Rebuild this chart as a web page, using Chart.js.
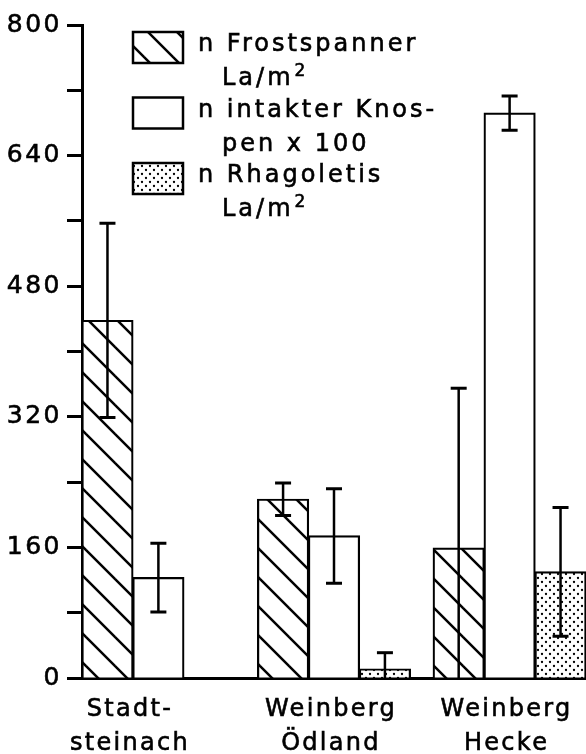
<!DOCTYPE html>
<html>
<head>
<meta charset="utf-8">
<script src="https://cdn.jsdelivr.net/npm/chart.js@4"></script>
<style>
  html, body { margin: 0; padding: 0; background: #fff; overflow: hidden; }
  #wrap { width: 586px; height: 754px; position: relative; }
</style>
</head>
<body>
<div id="wrap"><canvas id="c"></canvas></div>
<script>
// Sites (two-line labels under each bar group)
const categories = [['Stadt-', 'steinach'], ['Weinberg', 'Ödland'], ['Weinberg', 'Hecke']];

// Legend texts, one entry per series
const seriesNames = [['n Frostspanner', 'La/m²'], ['n intakter Knos-', 'pen x 100'], ['n Rhagoletis', 'La/m²']];

// Means and error half-widths per site
const frostspanner = [438, 219, 159];
const frostspannerErr = [119, 20, 196];
const knospen = [123, 174, 692];
const knospenErr = [42, 58, 21];
const rhagoletis = [null, 11, 130];
const rhagoletisErr = [null, 20, 79];

// Value axis: ticks every 80, labelled every 160
const yMax = 800;
const yTickStep = 80;
const yLabelStep = 160;

const FONT = '"DejaVu Sans", "Liberation Sans", sans-serif';

function hatchPattern() {
  const s = 29;
  const c = document.createElement('canvas');
  c.width = s; c.height = s;
  const g = c.getContext('2d');
  g.fillStyle = '#fff';
  g.fillRect(0, 0, s, s);
  g.strokeStyle = '#000';
  g.lineWidth = 2.5;
  for (let k = -1; k <= 1; k++) {
    g.beginPath();
    g.moveTo(-2, k * s - 2);
    g.lineTo(s + 2, s + k * s + 2);
    g.stroke();
  }
  return g.createPattern(c, 'repeat');
}

function dotPattern() {
  const s = 8;
  const c = document.createElement('canvas');
  c.width = s; c.height = s;
  const g = c.getContext('2d');
  g.fillStyle = '#fff';
  g.fillRect(0, 0, s, s);
  g.fillStyle = '#000';
  [[2, 2], [6, 6]].forEach(([x, y]) => {
    g.beginPath();
    g.arc(x, y, 1.15, 0, Math.PI * 2);
    g.fill();
  });
  return g.createPattern(c, 'repeat');
}

const fills = [hatchPattern(), '#fff', dotPattern()];
const values = [frostspanner, knospen, rhagoletis];
const errors = [frostspannerErr, knospenErr, rhagoletisErr];

// Share of a category slot taken by a bar group
const groupShare = 0.87;

const datasets = values.map((vals, d) => ({
  label: seriesNames[d].join(' '),
  data: vals.map((v, i) => ({ x: i, y: v })),
  errors: errors[d],
  backgroundColor: fills[d],
  borderColor: '#000',
  borderWidth: 2.2,
  borderSkipped: 'start',
  inflateAmount: 0.6,
  categoryPercentage: groupShare,
  barPercentage: 1.0
}));

// Text with a slightly heavier stroke and a drawn superscript "2"
function heavyText(ctx, text, x, y) {
  const parts = text.split('²');
  let cx = x;
  parts.forEach((p, k) => {
    if (p) {
      ctx.strokeText(p, cx, y);
      ctx.fillText(p, cx, y);
      cx += ctx.measureText(p).width;
    }
    if (k < parts.length - 1) {
      const f = ctx.font;
      ctx.font = f.replace(/\d+px/, '17px');
      ctx.strokeText('2', cx + 1, y - 9);
      ctx.fillText('2', cx + 1, y - 9);
      cx += ctx.measureText('2').width + 1;
      ctx.font = f;
    }
  });
}

// Mean ± error whiskers
const errorBars = {
  id: 'errorBars',
  afterDatasetsDraw(chart) {
    const ctx = chart.ctx;
    const y = chart.scales.y;
    ctx.save();
    ctx.strokeStyle = '#000';
    ctx.lineCap = 'butt';
    chart.data.datasets.forEach((ds, d) => {
      const meta = chart.getDatasetMeta(d);
      ds.data.forEach((pt, i) => {
        const e = ds.errors[i];
        if (pt.y == null || e == null) return;
        const x = meta.data[i].x;
        const yTop = y.getPixelForValue(pt.y + e);
        const yBot = y.getPixelForValue(Math.max(0, pt.y - e));
        const cap = 8;
        ctx.lineWidth = 2.5;
        ctx.beginPath();
        ctx.moveTo(x, yTop);
        ctx.lineTo(x, yBot);
        ctx.stroke();
        ctx.lineWidth = 3;
        ctx.beginPath();
        ctx.moveTo(x - cap, yTop);
        ctx.lineTo(x + cap, yTop);
        if (pt.y - e > 0) {
          ctx.moveTo(x - cap, yBot);
          ctx.lineTo(x + cap, yBot);
        }
        ctx.stroke();
      });
    });
    ctx.restore();
  }
};

// Site names, centred under the bars each site actually has
const siteLabels = {
  id: 'siteLabels',
  afterDraw(chart) {
    const ctx = chart.ctx;
    const area = chart.chartArea;
    ctx.save();
    ctx.font = '24px ' + FONT;
    ctx.letterSpacing = '2.3px';
    ctx.fillStyle = '#000';
    ctx.strokeStyle = '#000';
    ctx.lineWidth = 0.6;
    ctx.textAlign = 'center';
    ctx.textBaseline = 'alphabetic';
    categories.forEach((lines, i) => {
      let lo = Infinity, hi = -Infinity;
      chart.data.datasets.forEach((ds, d) => {
        if (ds.data[i].y == null) return;
        const el = chart.getDatasetMeta(d).data[i];
        lo = Math.min(lo, el.x - el.width / 2);
        hi = Math.max(hi, el.x + el.width / 2);
      });
      const cx = (lo + hi) / 2 - 3;
      lines.forEach((t, k) => {
        ctx.strokeText(t, cx, area.bottom + 38 + k * 34);
        ctx.fillText(t, cx, area.bottom + 38 + k * 34);
      });
    });
    ctx.restore();
  }
};

// Legend with pattern swatches and two-line entries
const patternLegend = {
  id: 'patternLegend',
  afterDraw(chart) {
    const ctx = chart.ctx;
    const area = chart.chartArea;
    const bx = area.left + 51, by0 = area.top + 7;
    const bw = 50, bh = 31, pitch = 65.5;
    ctx.save();
    ctx.font = '24px ' + FONT;
    ctx.letterSpacing = '3px';
    ctx.textAlign = 'left';
    ctx.textBaseline = 'alphabetic';
    seriesNames.forEach((lines, d) => {
      const by = by0 + d * pitch;
      ctx.fillStyle = fills[d];
      ctx.fillRect(bx, by, bw, bh);
      ctx.strokeStyle = '#000';
      ctx.lineWidth = 2.5;
      ctx.strokeRect(bx, by, bw, bh);
      ctx.fillStyle = '#000';
      ctx.lineWidth = 0.6;
      heavyText(ctx, lines[0], bx + bw + 15, by + 19);
      heavyText(ctx, lines[1], bx + bw + 39, by + 53);
    });
    ctx.restore();
  }
};

const spacing = {
  id: 'spacing',
  beforeDraw(chart) { chart.ctx.letterSpacing = '2.5px'; }
};

Chart.defaults.font.family = FONT;
Chart.defaults.color = '#000';

new Chart(document.getElementById('c'), {
  type: 'bar',
  data: { datasets },
  options: {
    responsive: true,
    maintainAspectRatio: false,
    animation: false,
    events: [],
    layout: { padding: { top: 25, right: 0, bottom: 0, left: 0 } },
    plugins: { legend: { display: false }, tooltip: { enabled: false } },
    scales: {
      x: {
        type: 'linear',
        offset: false,
        min: -groupShare / 2,
        max: categories.length - 1 + groupShare / 2,
        afterBuildTicks(s) { s.ticks = categories.map((c, i) => ({ value: i })); },
        ticks: { display: false },
        grid: { display: false },
        border: { display: true, color: '#000', width: 3 },
        afterFit(s) { s.height = 76; }
      },
      y: {
        min: 0,
        max: yMax,
        ticks: {
          stepSize: yTickStep,
          autoSkip: false,
          padding: 5,
          font: { size: 25 },
          color: '#000',
          textStrokeColor: '#000',
          textStrokeWidth: 0.6,
          callback: (v) => (v % yLabelStep === 0 ? String(v) : '')
        },
        grid: {
          display: true,
          drawOnChartArea: false,
          drawTicks: true,
          tickLength: 15,
          tickWidth: 3,
          tickColor: '#000'
        },
        border: { display: true, color: '#000', width: 3 },
        afterFit(s) { s.width = 82; }
      }
    }
  },
  plugins: [spacing, errorBars, siteLabels, patternLegend]
});
</script>
</body>
</html>
